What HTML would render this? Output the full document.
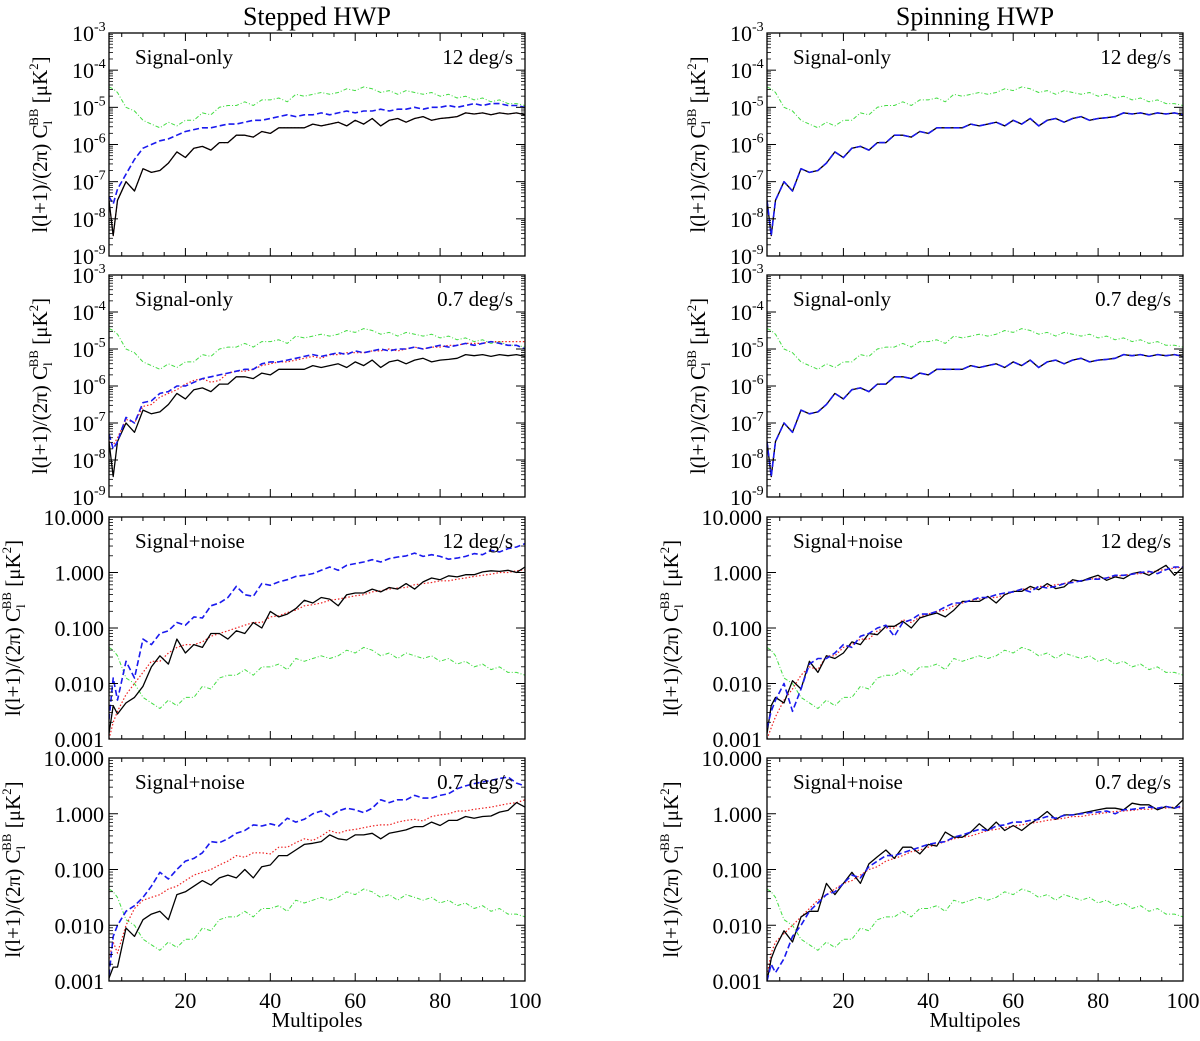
<!DOCTYPE html>
<html><head><meta charset="utf-8"><style>
html,body{margin:0;padding:0;background:#fff;}
svg{display:block;font-family:"Liberation Serif",serif;}
</style></head><body>
<svg id="fig" width="1200" height="1041" viewBox="0 0 1200 1041" xmlns="http://www.w3.org/2000/svg">
<text x="317" y="25" font-size="26" text-anchor="middle">Stepped HWP</text>
<text x="975" y="25" font-size="26" text-anchor="middle">Spinning HWP</text>
<g id="plots"></g>
</svg>
<script>
const ells=[2,3,4,6,8,10,12,14,16,18,20,22,24,26,28,30,32,34,36,38,40,42,44,46,48,50,52,54,56,58,60,62,64,66,68,70,72,74,76,78,80,82,84,86,88,90,92,94,96,98,100];
const xTicks=[20,40,60,80,100];
const topTickExp=[-3,-4,-5,-6,-7,-8,-9];
const botTickLabels=["10.000","1.000","0.100","0.010","0.001"];
const botTickExp=[1,0,-1,-2,-3];
const greenTop=[-4.45,-4.5,-4.6,-5.0,-5.1,-5.35,-5.45,-5.55,-5.4,-5.5,-5.35,-5.35,-5.15,-5.2,-5.0,-4.95,-4.95,-4.85,-4.95,-4.8,-4.8,-4.75,-4.85,-4.65,-4.7,-4.65,-4.6,-4.65,-4.6,-4.5,-4.55,-4.45,-4.5,-4.6,-4.55,-4.65,-4.55,-4.6,-4.65,-4.6,-4.7,-4.65,-4.75,-4.7,-4.8,-4.75,-4.85,-4.8,-4.9,-4.9,-4.95];
const greenBot=[-1.35,-1.4,-1.5,-1.9,-2.0,-2.25,-2.35,-2.45,-2.3,-2.4,-2.25,-2.25,-2.05,-2.1,-1.9,-1.85,-1.85,-1.75,-1.85,-1.7,-1.7,-1.65,-1.75,-1.55,-1.6,-1.55,-1.5,-1.55,-1.5,-1.4,-1.45,-1.35,-1.4,-1.5,-1.45,-1.55,-1.45,-1.5,-1.55,-1.5,-1.6,-1.55,-1.65,-1.6,-1.7,-1.65,-1.75,-1.7,-1.8,-1.8,-1.85];
const blackSig=[-7.5,-8.45,-7.5,-7.0,-7.25,-6.65,-6.75,-6.7,-6.5,-6.2,-6.35,-6.1,-6.05,-6.15,-5.95,-5.95,-5.75,-5.75,-5.8,-5.65,-5.7,-5.55,-5.55,-5.55,-5.55,-5.45,-5.5,-5.45,-5.4,-5.5,-5.35,-5.45,-5.3,-5.5,-5.35,-5.3,-5.4,-5.3,-5.25,-5.35,-5.3,-5.28,-5.25,-5.15,-5.18,-5.15,-5.2,-5.15,-5.18,-5.15,-5.2];
const blueSL12=[-7.4,-7.6,-7.2,-6.8,-6.4,-6.1,-6.0,-5.9,-5.85,-5.75,-5.65,-5.6,-5.55,-5.55,-5.5,-5.45,-5.45,-5.4,-5.35,-5.35,-5.3,-5.25,-5.2,-5.25,-5.2,-5.2,-5.15,-5.2,-5.15,-5.1,-5.15,-5.1,-5.1,-5.05,-5.1,-5.05,-5.05,-5.0,-5.05,-5.0,-5.0,-4.95,-5.0,-4.95,-4.9,-4.95,-4.9,-4.9,-4.95,-4.95,-5.0];
const blueSL07=[-7.3,-7.7,-7.5,-6.85,-7.0,-6.45,-6.4,-6.2,-6.15,-6.0,-6.0,-5.9,-5.8,-5.75,-5.7,-5.65,-5.6,-5.55,-5.55,-5.4,-5.35,-5.35,-5.3,-5.25,-5.2,-5.15,-5.2,-5.15,-5.1,-5.15,-5.05,-5.1,-5.05,-5.0,-5.05,-5.0,-5.0,-4.95,-5.0,-4.95,-4.9,-4.95,-4.9,-4.85,-4.9,-4.85,-4.8,-4.85,-4.9,-4.9,-5.0];
const redSL07=[-7.5,-7.6,-7.4,-6.9,-7.0,-6.55,-6.5,-6.3,-6.2,-6.1,-5.95,-5.85,-5.8,-5.9,-5.85,-5.65,-5.6,-5.6,-5.55,-5.45,-5.4,-5.35,-5.35,-5.3,-5.25,-5.2,-5.25,-5.15,-5.15,-5.1,-5.1,-5.1,-5.05,-5.05,-5.0,-5.05,-5.0,-4.95,-5.0,-4.95,-4.95,-4.9,-4.9,-4.85,-4.85,-4.85,-4.8,-4.8,-4.8,-4.8,-4.8];
const blackSN12L=[-2.9,-2.4,-2.55,-2.35,-2.25,-2.05,-1.7,-1.5,-1.65,-1.2,-1.45,-1.3,-1.35,-1.1,-1.1,-1.2,-1.05,-1.1,-0.9,-1.0,-0.7,-0.8,-0.75,-0.65,-0.5,-0.55,-0.45,-0.48,-0.6,-0.4,-0.37,-0.37,-0.3,-0.35,-0.27,-0.3,-0.2,-0.3,-0.17,-0.1,-0.13,-0.06,-0.08,-0.04,-0.04,0.01,0.03,0.02,0.04,0.0,0.1];
const redSN12L=[-3.0,-2.7,-2.5,-2.2,-2.0,-1.8,-1.6,-1.6,-1.45,-1.35,-1.3,-1.3,-1.25,-1.15,-1.1,-1.05,-1.0,-0.95,-0.9,-0.9,-0.8,-0.78,-0.72,-0.68,-0.6,-0.58,-0.55,-0.5,-0.48,-0.45,-0.42,-0.4,-0.35,-0.33,-0.3,-0.28,-0.27,-0.22,-0.2,-0.18,-0.15,-0.15,-0.12,-0.1,-0.07,-0.05,-0.03,0.0,0.0,0.03,0.05];
const blueSN12L=[-2.65,-1.9,-2.3,-1.6,-1.9,-1.2,-1.3,-1.1,-1.05,-0.9,-0.95,-0.8,-0.82,-0.6,-0.55,-0.45,-0.25,-0.4,-0.43,-0.2,-0.23,-0.17,-0.13,-0.07,-0.05,-0.02,0.04,0.1,0.04,0.13,0.16,0.19,0.23,0.19,0.25,0.28,0.3,0.35,0.29,0.32,0.29,0.24,0.26,0.29,0.34,0.32,0.4,0.37,0.43,0.46,0.52];
const blackSN07L=[-2.95,-2.75,-2.75,-2.05,-2.2,-1.9,-1.8,-1.75,-1.9,-1.45,-1.4,-1.3,-1.2,-1.28,-1.15,-1.1,-1.15,-1.0,-1.15,-0.95,-0.92,-0.75,-0.75,-0.65,-0.55,-0.53,-0.5,-0.38,-0.45,-0.47,-0.38,-0.38,-0.35,-0.45,-0.35,-0.32,-0.29,-0.23,-0.23,-0.15,-0.21,-0.12,-0.12,-0.05,-0.08,-0.05,-0.04,0.03,0.06,0.2,0.12];
const redSN07L=[-2.6,-2.3,-2.5,-2.0,-1.7,-1.55,-1.5,-1.45,-1.35,-1.3,-1.2,-1.1,-1.05,-1.0,-0.92,-0.85,-0.75,-0.78,-0.7,-0.7,-0.72,-0.6,-0.6,-0.52,-0.45,-0.48,-0.4,-0.3,-0.35,-0.3,-0.28,-0.25,-0.22,-0.2,-0.2,-0.15,-0.12,-0.1,-0.13,-0.05,-0.02,0.0,0.05,0.05,0.08,0.1,0.12,0.15,0.18,0.2,0.25];
const blueSN07L=[-2.9,-2.2,-2.0,-1.75,-1.65,-1.5,-1.3,-1.05,-1.17,-1.0,-0.85,-0.8,-0.7,-0.5,-0.52,-0.45,-0.35,-0.3,-0.2,-0.22,-0.18,-0.22,-0.08,-0.15,-0.1,0.0,0.05,-0.05,0.05,0.1,0.07,0.02,0.1,0.25,0.2,0.25,0.25,0.33,0.28,0.28,0.33,0.36,0.45,0.5,0.54,0.57,0.6,0.63,0.66,0.55,0.5];
const blackSN12R=[-2.9,-2.4,-2.25,-2.35,-1.95,-2.1,-1.6,-1.8,-1.5,-1.55,-1.45,-1.25,-1.3,-1.1,-1.12,-0.97,-0.97,-0.88,-1.0,-0.82,-0.77,-0.73,-0.8,-0.68,-0.52,-0.52,-0.52,-0.43,-0.55,-0.4,-0.34,-0.34,-0.25,-0.31,-0.2,-0.29,-0.26,-0.13,-0.16,-0.1,-0.05,-0.14,-0.08,-0.11,-0.02,0.01,-0.05,0.04,0.13,-0.05,0.1];
const redSN12R=[-3.0,-2.8,-2.6,-2.3,-2.1,-1.85,-1.7,-1.75,-1.5,-1.5,-1.35,-1.3,-1.2,-1.2,-1.05,-1.0,-1.0,-0.85,-0.9,-0.8,-0.75,-0.7,-0.68,-0.6,-0.55,-0.5,-0.48,-0.45,-0.45,-0.4,-0.35,-0.3,-0.3,-0.25,-0.25,-0.22,-0.2,-0.15,-0.15,-0.12,-0.1,-0.1,-0.07,-0.05,-0.03,-0.02,0.0,0.03,0.06,0.08,0.1];
const blueSN12R=[-2.8,-2.5,-2.3,-2.0,-2.5,-2.1,-1.65,-1.55,-1.55,-1.45,-1.3,-1.35,-1.15,-1.1,-1.0,-0.95,-1.15,-0.9,-0.85,-0.75,-0.75,-0.7,-0.62,-0.55,-0.55,-0.5,-0.45,-0.45,-0.4,-0.37,-0.35,-0.3,-0.35,-0.25,-0.28,-0.25,-0.2,-0.18,-0.15,-0.12,-0.12,-0.1,-0.05,-0.05,-0.03,0.0,0.02,-0.02,0.05,0.1,0.1];
const blackSN07R=[-3.0,-2.6,-2.4,-2.1,-2.3,-1.85,-1.75,-1.75,-1.25,-1.45,-1.25,-1.05,-1.25,-0.9,-0.77,-0.65,-0.8,-0.6,-0.6,-0.72,-0.55,-0.58,-0.33,-0.42,-0.42,-0.33,-0.18,-0.3,-0.15,-0.3,-0.21,-0.3,-0.18,-0.08,0.04,-0.1,-0.02,-0.02,0.01,0.04,0.07,0.1,0.1,0.07,0.19,0.16,0.16,0.07,0.13,0.1,0.25];
const redSN07R=[-2.9,-2.5,-2.3,-2.15,-2.0,-1.85,-1.7,-1.55,-1.45,-1.35,-1.25,-1.2,-1.1,-1.0,-0.95,-0.85,-0.8,-0.75,-0.68,-0.65,-0.6,-0.55,-0.5,-0.45,-0.42,-0.4,-0.35,-0.3,-0.28,-0.25,-0.22,-0.2,-0.17,-0.15,-0.12,-0.1,-0.08,-0.05,-0.05,-0.02,0.0,0.02,0.04,0.05,0.06,0.08,0.08,0.1,0.1,0.12,0.1];
const blueSN07R=[-3.0,-2.7,-2.85,-2.6,-2.2,-2.0,-1.75,-1.6,-1.45,-1.4,-1.25,-1.1,-1.15,-0.95,-0.85,-0.75,-0.75,-0.7,-0.65,-0.6,-0.55,-0.52,-0.5,-0.42,-0.38,-0.33,-0.28,-0.3,-0.22,-0.2,-0.15,-0.15,-0.12,-0.1,-0.05,-0.08,-0.03,-0.02,0.0,0.02,0.03,0.05,0.0,0.07,0.08,0.1,0.12,0.1,0.13,0.1,0.15];

const NS="http://www.w3.org/2000/svg";
const root=document.getElementById('plots');
function mk(tag,attrs,parent){const e=document.createElementNS(NS,tag);for(const k in attrs)e.setAttribute(k,attrs[k]);(parent||root).appendChild(e);return e;}
const cols=[{x0:109,x1:525},{x0:767,x1:1183}];
const rows=[{y0:33,y1:256},{y0:275,y1:497},{y0:517,y1:739},{y0:758,y1:981}];
const panels=[
 {c:0,r:0,kind:'sig',lab:'Signal-only',sp:'12 deg/s',s:{green:greenTop,red:blackSig,black:blackSig,blue:blueSL12}},
 {c:0,r:1,kind:'sig',lab:'Signal-only',sp:'0.7 deg/s',s:{green:greenTop,black:blackSig,red:redSL07,blue:blueSL07}},
 {c:0,r:2,kind:'sn',lab:'Signal+noise',sp:'12 deg/s',s:{green:greenBot,red:redSN12L,black:blackSN12L,blue:blueSN12L}},
 {c:0,r:3,kind:'sn',lab:'Signal+noise',sp:'0.7 deg/s',s:{green:greenBot,red:redSN07L,black:blackSN07L,blue:blueSN07L}},
 {c:1,r:0,kind:'sig',lab:'Signal-only',sp:'12 deg/s',s:{green:greenTop,red:blackSig,black:blackSig,blue:blackSig}},
 {c:1,r:1,kind:'sig',lab:'Signal-only',sp:'0.7 deg/s',s:{green:greenTop,red:blackSig,black:blackSig,blue:blackSig}},
 {c:1,r:2,kind:'sn',lab:'Signal+noise',sp:'12 deg/s',s:{green:greenBot,red:redSN12R,black:blackSN12R,blue:blueSN12R}},
 {c:1,r:3,kind:'sn',lab:'Signal+noise',sp:'0.7 deg/s',s:{green:greenBot,red:redSN07R,black:blackSN07R,blue:blueSN07R}}
];
const styles={green:{stroke:'#44dd44',w:1,dash:'4 2 1 2'},red:{stroke:'#ee2222',w:1.2,dash:'1.5 2'},black:{stroke:'#000',w:1.3,dash:''},blue:{stroke:'#1a1aee',w:1.6,dash:'6 3'}};
panels.forEach((p,i)=>{
  const C=cols[p.c],R=rows[p.r];
  const lo=p.kind==='sig'?-9:-3, hi=p.kind==='sig'?-3:1;
  const sx=l=>C.x0+(l-2)/98*(C.x1-C.x0);
  const sy=v=>R.y1-(v-lo)/(hi-lo)*(R.y1-R.y0);
  const g=mk('g',{});
  
  
  const clip=mk('clipPath',{id:'cp'+i},g);mk('rect',{x:C.x0,y:R.y0,width:C.x1-C.x0,height:R.y1-R.y0},clip);
  const lines=mk('g',{'clip-path':'url(#cp'+i+')'},g);
  ['green','red','black','blue'].forEach(k=>{
    const arr=p.s[k],st=styles[k];
    const n=Math.min(arr.length,ells.length);
    let d='';for(let j=0;j<n;j++)d+=(j?'L':'M')+sx(ells[j]).toFixed(1)+' '+sy(arr[j]).toFixed(1);
    const pa=mk('path',{d:d,fill:'none',stroke:st.stroke,'stroke-width':st.w,'stroke-dasharray':st.dash,'stroke-linejoin':'round'},lines);
    
    
  });
  const fr=mk('rect',{x:C.x0,y:R.y0,width:C.x1-C.x0,height:R.y1-R.y0,fill:'none',stroke:'#000','stroke-width':1.3},g);
  
  
  for(let l=5;l<=100;l+=5){
    const x=sx(l);const maj=l%20===0;const L=maj?8:4;
    mk('line',{x1:x,y1:R.y1,x2:x,y2:R.y1-L,stroke:'#000','stroke-width':1},g);
    mk('line',{x1:x,y1:R.y0,x2:x,y2:R.y0+L,stroke:'#000','stroke-width':1},g);
  }
  for(let e=lo;e<=hi;e++){
    const y=sy(e);
    mk('line',{x1:C.x0,y1:y,x2:C.x0+9,y2:y,stroke:'#000','stroke-width':1},g);
    mk('line',{x1:C.x1,y1:y,x2:C.x1-9,y2:y,stroke:'#000','stroke-width':1},g);
    if(e<hi)for(let m=2;m<=9;m++){const ym=sy(e+Math.log10(m));
      mk('line',{x1:C.x0,y1:ym,x2:C.x0+4,y2:ym,stroke:'#000','stroke-width':0.8},g);
      mk('line',{x1:C.x1,y1:ym,x2:C.x1-4,y2:ym,stroke:'#000','stroke-width':0.8},g);}
  }
  if(p.kind==='sig'){
    topTickExp.forEach(e=>{const t=mk('text',{x:C.x0-37,y:sy(e)+8,'font-size':22},g);t.textContent='10';
      const s=mk('tspan',{dy:-10,'font-size':14},t);s.textContent=String(e);
      });
  } else {
    botTickExp.forEach((e,k)=>{const t=mk('text',{x:C.x0-5,y:sy(e)+8,'font-size':22,'text-anchor':'end'},g);t.textContent=botTickLabels[k];
      });
  }
  const tx=p.kind==='sig'?C.x0-70:C.x0-97, ty=(R.y0+R.y1)/2;
  const yt=mk('text',{x:0,y:0,'font-size':21,'text-anchor':'middle',transform:`translate(${tx+8},${ty}) rotate(-90)`},g);
  
  yt.innerHTML='l(l+1)/(2π) C<tspan dy="5" font-size="13">l</tspan><tspan dy="-14" dx="-5" font-size="13">BB</tspan><tspan dy="9"> [μK</tspan><tspan dy="-9" font-size="13">2</tspan><tspan dy="9">]</tspan>';
  const a=mk('text',{x:C.x0+26,y:R.y0+31,'font-size':21},g);a.textContent=p.lab;
  
  const b=mk('text',{x:C.x1-12,y:R.y0+31,'font-size':21,'text-anchor':'end'},g);b.textContent=p.sp;
  
  if(p.r===3){
    xTicks.forEach(l=>{const t=mk('text',{x:sx(l),y:R.y1+27,'font-size':22,'text-anchor':'middle'},g);t.textContent=String(l);
      });
    const xt=mk('text',{x:(C.x0+C.x1)/2,y:R.y1+46,'font-size':21,'text-anchor':'middle'},g);xt.textContent='Multipoles';
    
  }
});
</script>
</body></html>
